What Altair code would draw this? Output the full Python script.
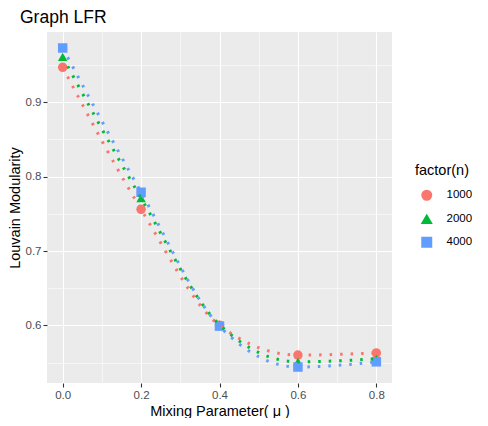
import altair as alt
import pandas as pd

mu = [0.0, 0.2, 0.4, 0.6, 0.8]
groups = ["1000", "2000", "4000"]
mod_1000 = [0.947, 0.756, 0.600, 0.560, 0.563]
mod_2000 = [0.961, 0.771, 0.601, 0.551, 0.555]
mod_4000 = [0.973, 0.779, 0.599, 0.544, 0.551]
colors = ["#F8766D", "#00BA38", "#619CFF"]
shapes = ["circle", "triangle-up", "square"]
x_ticks = [0.0, 0.1, 0.2, 0.3, 0.4, 0.5, 0.6, 0.7, 0.8]
y_ticks = [0.55, 0.6, 0.65, 0.7, 0.75, 0.8, 0.85, 0.9, 0.95]

rows = []
for g, vals in zip(groups, [mod_1000, mod_2000, mod_4000]):
    for m, v in zip(mu, vals):
        rows.append({"mu": m, "mod": v, "n": g})
df = pd.DataFrame(rows)

x_major = "round(datum.value*10) % 2 == 0"
y_major = "round(datum.value*20) % 2 == 0"

x = alt.X("mu:Q", scale=alt.Scale(domain=[-0.04, 0.84], nice=False, zero=False),
          axis=alt.Axis(values=x_ticks, title="Mixing Parameter( μ )",
                        labelExpr=f"{x_major} ? format(datum.value, '.1f') : ''",
                        gridColor="white",
                        gridWidth=alt.condition(x_major, alt.value(1.1), alt.value(0.55)),
                        tickOpacity=alt.condition(x_major, alt.value(1), alt.value(0)),
                        tickColor="#333333", tickSize=4, tickWidth=1.1,
                        domain=False, labelColor="#4D4D4D", labelFontSize=11.5,
                        labelFont="Liberation Sans", titleFont="Liberation Sans",
                        titleFontSize=14.5, titleFontWeight="normal", titleColor="black",
                        labelPadding=2, titlePadding=4))
y = alt.Y("mod:Q", scale=alt.Scale(domain=[0.5225, 0.9945], nice=False, zero=False),
          axis=alt.Axis(values=y_ticks, title="Louvain Modularity",
                        labelExpr=f"{y_major} ? format(datum.value, '.1f') : ''",
                        gridColor="white",
                        gridWidth=alt.condition(y_major, alt.value(1.1), alt.value(0.55)),
                        tickOpacity=alt.condition(y_major, alt.value(1), alt.value(0)),
                        tickColor="#333333", tickSize=4, tickWidth=1.1,
                        domain=False, labelColor="#4D4D4D", labelFontSize=11.5,
                        labelFont="Liberation Sans", titleFont="Liberation Sans",
                        titleFontSize=14.5, titleFontWeight="normal", titleColor="black",
                        labelPadding=2, titlePadding=3))

color = alt.Color("n:N", scale=alt.Scale(domain=groups, range=colors),
                  legend=alt.Legend(title="factor(n)", orient="none", legendX=368, legendY=132,
                                    titleFont="Liberation Sans", titleFontSize=14.5,
                                    titleFontWeight="normal", titleColor="black",
                                    labelFont="Liberation Sans", labelFontSize=11.5,
                                    labelColor="black", symbolSize=90, rowPadding=8,
                                    titlePadding=11, labelOffset=14, symbolOffset=6))
shape = alt.Shape("n:N", scale=alt.Scale(domain=groups, range=shapes))

lines = alt.Chart(df).mark_line(strokeDash=[2.5, 8], strokeWidth=3, strokeCap="butt",
                                interpolate="monotone").encode(
    x=x, y=y, color=color, detail="n:N")
points = alt.Chart(df).mark_point(filled=True, size=90, opacity=1).encode(
    x=x, y=y, color=color, shape=shape)

chart = alt.layer(points, lines).properties(
    width=345, height=351,
    view=alt.ViewBackground(fill="#EBEBEB", strokeWidth=0),
    title=alt.Title("Graph LFR", anchor="start", frame="group", font="Liberation Sans",
                    fontSize=17.5, fontWeight="normal", color="black", offset=6, dx=-27),
    autosize=alt.AutoSizeParams(type="none"),
    padding={"left": 39, "top": 24, "right": 88, "bottom": 35},
).configure(background="white")

chart.save("out.html", embed_options={"renderer": "svg", "actions": False})
